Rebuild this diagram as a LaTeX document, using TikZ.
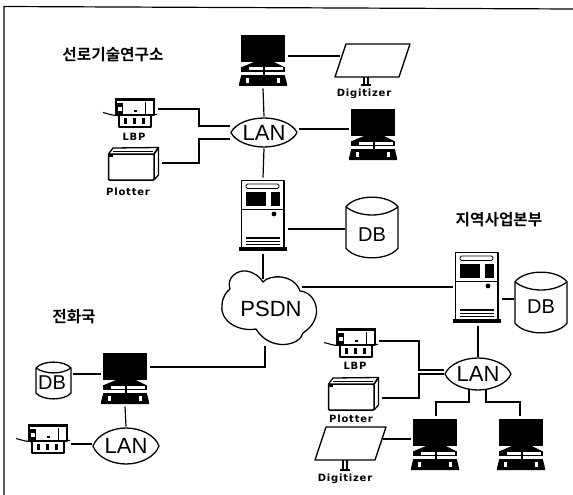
\documentclass[tikz,border=0pt]{standalone}
\usepackage{fontspec}
\setmainfont{Liberation Sans}
\newfontfamily\krfont{Noto Sans CJK KR}[BoldFont={Noto Sans CJK KR Bold}]
\newfontfamily\tagfont{DejaVu Sans}[BoldFont={DejaVu Sans Bold},LetterSpace=8]
\tikzset{
  link/.style={draw=black,line width=1.2pt},
  anchorbox/.style={rectangle,inner sep=0pt,outer sep=2.5pt},
  outline/.style={draw=black,line width=1.3pt,line join=round},
  bigtext/.style={inner sep=0pt,font=\fontsize{22}{24}\selectfont},
  dbtext/.style={inner sep=0pt,font=\fontsize{20}{22}\selectfont},
  smalltext/.style={inner sep=0pt,font=\fontsize{10}{11}\selectfont\tagfont\bfseries},
  krtext/.style={inner sep=0pt,font=\fontsize{15.7}{17}\selectfont\krfont\bfseries},
}
\newcommand{\PcIcon}[3]{%
  \node[anchorbox,minimum width=44pt,minimum height=51pt] (#1) at (#2+22,#3+25.5) {};
  \begin{scope}[shift={(#2,#3)}]
    \fill (0,0) rectangle (44,27);
    \fill (13,27) -- (33,27) -- (43,32) -- (1,32) -- cycle;
    \fill (0,32) rectangle (44,42);
    \fill[white] (8,32.5) rectangle (22,35.5);
    \fill[white] (24,32.5) rectangle (42,35.5);
    \fill[white] (0,37) rectangle (22,40);
    \fill[white] (24,37) rectangle (44,40);
    \fill (0,41) -- (44,41) -- (46,49) -- (46,51) -- (-2,51) -- (-2,49) -- cycle;
    \fill[white] (5,43) rectangle (8,48);
    \fill[white] (36,43) rectangle (38.5,48);
  \end{scope}}
\newcommand{\ServerIcon}[3]{%
  \node[anchorbox,minimum width=44pt,minimum height=71pt] (#1) at (#2+22,#3+35.5) {};
  \begin{scope}[shift={(#2,#3)}]
    \draw[outline] (0.5,0.5) rectangle (43,68);
    \draw[line width=.9pt,rounded corners=1.5pt] (5,4) rectangle (38,8.5);
    \fill (5,12) rectangle (25,26);
    \fill (30,12) rectangle (39,26);
    \draw[line width=1pt] (0.5,29) -- (43,29);
    \fill (33,34) circle (2.4);
    \fill (5,57) rectangle (39,59);
    \fill (5,61) rectangle (39,62);
    \fill (5,64) rectangle (39,65);
    \fill (-2,67) rectangle (46,71);
  \end{scope}}
\newcommand{\LbpIcon}[3]{%
  \node[anchorbox,minimum width=40pt,minimum height=29pt] (#1) at (#2+20,#3+14.5) {};
  \begin{scope}[shift={(#2,#3)}]
    \draw[outline] (1,0.5) rectangle (39,17);
    \fill (0,0) rectangle (40,3);
    \fill (2,5) rectangle (8,16);
    \fill[white] (3,9) rectangle (7,13);
    \draw[line width=.6pt] (30,4) -- (30,16);
    \fill (19,12) rectangle (22,14);
    \draw[outline] (4,17) rectangle (36,29);
    \fill (9,20) rectangle (12,26);
    \fill (18,20) rectangle (21,26);
    \fill (27,20) rectangle (30,26);
    \draw[line width=1.1pt] (-12,14.5) .. controls (-6,16) and (-3,17.5) .. (3,17.5) -- (42,16.5);
  \end{scope}}
\newcommand{\PlotterIcon}[3]{%
  \node[anchorbox,minimum width=51pt,minimum height=34pt] (#1) at (#2+25.5,#3+17) {};
  \begin{scope}[shift={(#2,#3)}]
    \draw[line width=1.5pt,line join=round,rounded corners=1pt] (0.5,7) rectangle (46,33);
    \draw[line width=1.3pt,line join=round] (0.5,7) -- (5,1) -- (50.5,0.5) -- (50.5,28) -- (46,33);
    \draw[line width=1.8pt] (46,7) -- (50.5,0.5);
    \draw[line width=.8pt] (5,4) -- (45,4);
    \fill (1,7) rectangle (5,10);
    \draw[line width=1.8pt] (50.5,1) -- (50.5,28);
  \end{scope}}
\newcommand{\DbIcon}[5]{%
  \node[anchorbox,minimum width=#4 pt,minimum height=#5 pt,outer sep=1.5pt] (#1) at (#2+#4/2,#3+#5/2) {};
  \begin{scope}[shift={(#2,#3)},x=#4 pt,y=-#5 pt]
    \draw[outline] (0,.16) .. controls (.2,-.05) and (.8,-.05) .. (1,.16)
       -- (1,.84) .. controls (.8,1.05) and (.2,1.05) .. (0,.84) -- cycle;
    \draw[outline] (0,.16) .. controls (.25,.34) and (.75,.34) .. (1,.16);
  \end{scope}}
% name, left, top, height
\newcommand{\LanIcon}[4]{%
  \node[anchorbox,minimum width=66pt,minimum height=#4 pt,outer sep=1.5pt,bigtext] (#1) at (#2+33,#3+#4/2) {LAN};
  \begin{scope}[shift={(#2,#3)},x=66pt,y=-#4 pt]
    \draw[outline] (0,.5) .. controls (.06,.2) and (.28,0) .. (.5,0)
       .. controls (.72,0) and (.94,.2) .. (1,.5)
       .. controls (.94,.8) and (.72,1) .. (.5,1)
       .. controls (.28,1) and (.06,.8) .. (0,.5) -- cycle;
  \end{scope}}
\begin{document}
\begin{tikzpicture}[x=1pt,y=-1pt]
\useasboundingbox (0,0) rectangle (573,495);
\fill[white] (0,0) rectangle (573,495);
% frame
\draw[line width=1.2pt] (4,495) -- (4,6.5) -- (573,9);

% labels
\node[krtext] (t1) at (113,55) {선로기술연구소};
\node[krtext] (t2) at (499,220) {지역사업본부};
\node[krtext] (t3) at (74,317) {전화국};

% devices
\PcIcon{pca}{241}{35}
\PcIcon{pcb}{351}{109}
\PcIcon{pcc}{103}{353}
\PcIcon{pcd}{413}{419}
\PcIcon{pce}{499}{419}
\ServerIcon{sva}{241}{180}
\ServerIcon{svb}{455}{252}
\DbIcon{dba}{346}{197}{52}{61}
\DbIcon{dbb}{515}{272}{52}{61}
\DbIcon{dbc}{36}{362}{35}{37}
\node[dbtext] (dbat) at (372,235) {DB};
\node[dbtext] (dbbt) at (541,307) {DB};
\node[dbtext] (dbct) at (52,383) {DB};
\LanIcon{lana}{231}{118}{29}
\LanIcon{lanb}{445}{358}{32}
\LanIcon{lanc}{93}{428}{36}
\LbpIcon{lbpa}{115}{98}
\LbpIcon{lbpb}{336}{328}
\LbpIcon{lbpc}{28}{424}
\PlotterIcon{plta}{108}{147}
\PlotterIcon{pltb}{328}{377}
\node[smalltext] (lbla) at (134,137) {LBP};
\node[smalltext] (lblb) at (355,366) {LBP};
\node[smalltext] (plba) at (128,192) {Plotter};
\node[smalltext] (plbb) at (351,419) {Plotter};
% digitizers
\draw[outline] (346,44) -- (410,44) -- (399,77) -- (335,77) -- cycle;
\node[anchorbox,minimum width=60pt,minimum height=33pt] (diga) at (372.5,60.5) {};
\draw[line width=1.1pt] (364,77) -- (364,85) (368,77) -- (368,85) (361,85) -- (371,85);
\node[smalltext] (dgla) at (364,94) {Digitizer};
\draw[outline] (326,427) -- (386,427) -- (375,460) -- (315,460) -- cycle;
\node[anchorbox,minimum width=60pt,minimum height=33pt] (digb) at (350.5,443.5) {};
\draw[line width=1.1pt] (343,460) -- (343,470) (347,460) -- (347,470) (340,470) -- (350,470);
\node[smalltext] (dglb) at (345,479) {Digitizer};
% cloud
\node[bigtext,minimum width=80pt,minimum height=66pt] (psdn) at (271,309) {PSDN};
\draw[outline] (230,289) .. controls (226,277) and (238,270) .. (246,271)
  .. controls (254,272) and (260,277) .. (263,282)
  .. controls (270,274) and (294,274) .. (300,291)
  .. controls (316,292) and (326,318) .. (303,333)
  .. controls (300,346) and (270,352) .. (256,329)
  .. controls (240,332) and (220,322) .. (222,306)
  .. controls (222,298) and (226,292) .. (230,289) -- cycle;

% connectors
\draw[link] (pca.south) -- (lana.north);
\draw[link] (lana.south) -- (sva.north);
\draw[link] (sva.south) -- (sva.south |- 0,279);
\draw[link] (pca.east |- 0,56) -- (diga.west |- 0,56);
\draw[link] (lana.east |- 0,129) -- (pcb.west |- 0,129);
\draw[link] (sva.east |- 0,229) -- (dba.west |- 0,229);
\draw[link] (lbpa.east |- 0,109) -| (199,126) -- (lana.west |- 0,126);
\draw[link] (plta.east |- 0,163) -| (199,139) -- (lana.west |- 0,139);
\draw[link] (302,287) -- (svb.west |- 0,287);
\draw[link] (pcc.east |- 0,367) -| (265,346);
\draw[link] (dbc.east |- 0,374) -- (pcc.west |- 0,374);
\draw[link] (pcc.south) -- (lanc.north);
\draw[link] (lbpc.east |- 0,444) -- (lanc.west |- 0,444);
\draw[link] (svb.east |- 0,299) -- (dbb.west |- 0,299);
\draw[link] (lanb.north |- svb.south) -- (lanb.north);
\draw[link] (lbpb.east |- 0,341) -| (419,370) -- (lanb.west |- 0,370);
\draw[link] (pltb.east |- 0,398) -| (419,374) -- (lanb.west |- 0,374);
\draw[link] (469,389) |- (436,402) -- (436,416);
\draw[link] (486,389) |- (520,402) -- (520,416);
\draw[link] (digb.east |- 0,439) -- (pcd.west |- 0,439);
\end{tikzpicture}
\end{document}
